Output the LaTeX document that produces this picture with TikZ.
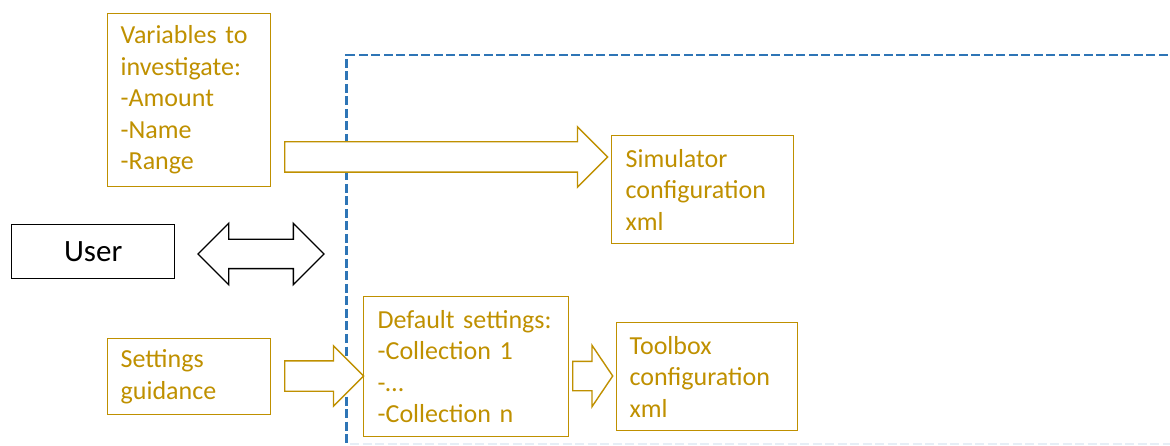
\documentclass[tikz,border=0pt]{standalone}
\usepackage{fontspec}
\setmainfont{Carlito}
\usepackage{xcolor}
\usepackage{tikz}
\usetikzlibrary{positioning, shapes.arrows}
\definecolor{gold}{HTML}{BF9000}
\definecolor{frameblue}{HTML}{2E75B6}

\begin{document}
\begin{tikzpicture}[
    x=1pt, y=-1pt,
    goldbox/.style={draw=gold, line width=1.4pt, rectangle, text=gold, align=left,
        inner ysep=2pt, font=\fontsize{26pt}{31.5pt}\selectfont},
    goldarrow/.style={single arrow, draw=gold, line width=1.4pt, fill=white,
        inner xsep=0pt, inner ysep=14.5pt, single arrow head extend=15pt,
        single arrow tip angle=90, anchor=tail},
    framedash/.style={draw=frameblue, line width=2.4pt, dash pattern=on 9pt off 3.5pt}
]
\useasboundingbox (0,0) rectangle (1170,446);

% Frame of the tool
\coordinate (frametr) at (1180,55);
\coordinate (frametl) at (346.5,55);
\coordinate (framebl) at (346.5,452);
\draw[framedash] (frametr) -- (frametl) -- (framebl);
\draw[draw=frameblue!12, line width=1.5pt, dash pattern=on 9pt off 3.5pt] (350,444) -- (1170,444);

% User side
\node[draw, line width=1.4pt, rectangle, minimum width=163pt, minimum height=54pt,
    font=\fontsize{31pt}{36pt}\selectfont, anchor=north west] (user) at (11,224) {User};

\node[double arrow, draw, line width=1.4pt, fill=white, inner xsep=0pt, inner ysep=14pt,
    double arrow head extend=16pt, double arrow tip angle=90,
    minimum height=126pt] (talk) at (261,254) {};

% Inputs
\node[goldbox, anchor=north west, minimum height=173pt, inner xsep=13pt, text width=137pt] (vars) at (107,13) {
    Variables to\\
    investigate:\\
    -Amount\\
    -Name\\
    -Range
};

\node[goldbox, anchor=north west, minimum height=76pt, inner xsep=13pt, text width=137pt] (guidance) at (107,338) {
    Settings\\
    guidance
};

% Inside the tool
\node[goldbox, anchor=north west, minimum height=108pt, inner xsep=14pt, text width=154pt] (simconf) at (611,135) {
    Simulator\\
    configuration\\
    xml
};

\node[goldbox, anchor=north west, minimum height=140pt, inner xsep=14pt, text width=177pt] (defaults) at (363,296) {
    Default settings:\\
    -Collection 1\\
    -\dots\\
    -Collection n
};

\node[goldbox, anchor=north west, minimum height=108pt, inner xsep=13pt, text width=155pt] (toolconf) at (616,322) {
    Toolbox\\
    configuration\\
    xml
};

% Block arrows
\node[goldarrow, minimum height=323pt] (varsarrow) at (284,157) {};
\node[goldarrow, minimum height=79pt] (guidancearrow) at (284,376) {};
\node[goldarrow, minimum height=40pt, inner ysep=14pt, single arrow head extend=16pt,
    single arrow tip angle=112] (defaultsarrow) at (572,376) {};

\end{tikzpicture}
\end{document}
